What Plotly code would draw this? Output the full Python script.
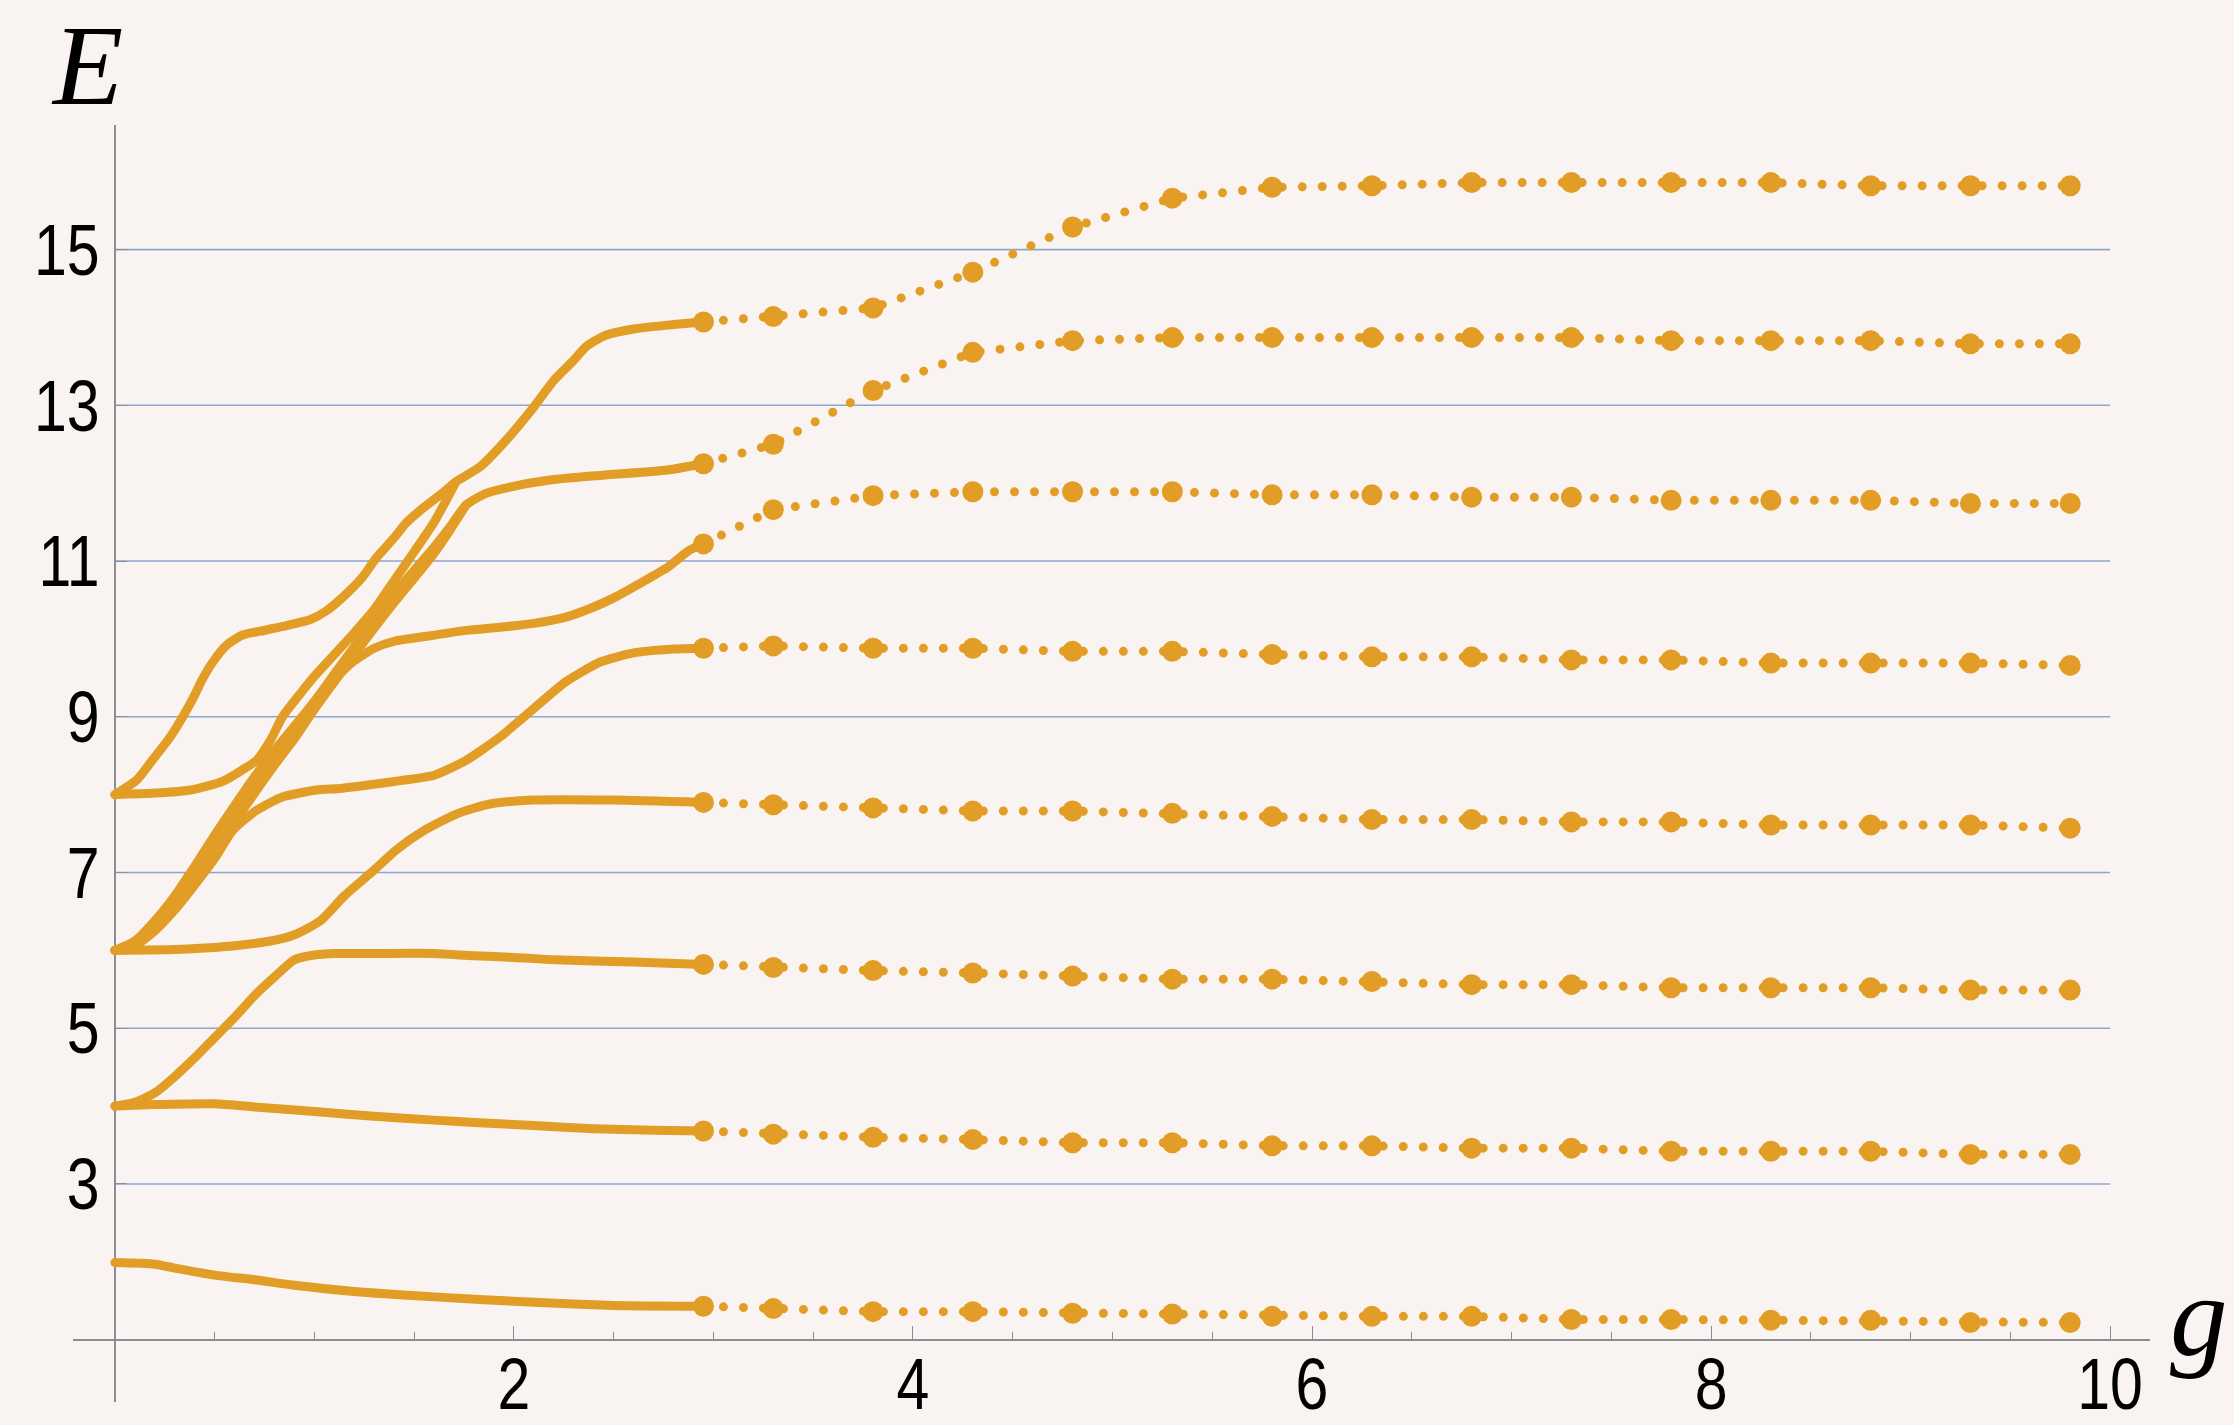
import plotly.graph_objects as go

# ---------------- data ----------------
# Solid branches (dense numerical solution), g from 0 up to the switch point
g_s1 = [0, 0.2, 0.3, 0.5, 0.7, 0.9, 1.2, 1.6, 2.1, 2.5, 2.95]
E_s1 = [1.99, 1.97, 1.92, 1.83, 1.77, 1.70, 1.62, 1.55, 1.48, 1.44, 1.43]

g_s2 = [0, 0.2, 0.5, 0.7, 1.0, 1.3, 1.6, 1.8, 2.1, 2.4, 2.7, 2.95]
E_s2 = [4.0, 4.02, 4.03, 3.99, 3.93, 3.87, 3.82, 3.79, 3.75, 3.71, 3.69, 3.68]

g_s3 = [0, 0.1, 0.2, 0.3, 0.4, 0.5, 0.6, 0.7, 0.8, 0.9, 1.0, 1.1, 1.3, 1.6, 1.8, 2.0, 2.2, 2.6, 2.95]
E_s3 = [4.0, 4.05, 4.17, 4.38, 4.62, 4.88, 5.14, 5.42, 5.66, 5.88, 5.94, 5.96, 5.96, 5.96, 5.93, 5.91, 5.88, 5.85, 5.82]

g_s4 = [0, 0.3, 0.45, 0.6, 0.8, 0.9, 1.03, 1.15, 1.29, 1.41, 1.55, 1.72, 1.88, 2.1, 2.5, 2.95]
E_s4 = [6.0, 6.01, 6.03, 6.06, 6.13, 6.2, 6.38, 6.70, 7.01, 7.29, 7.54, 7.76, 7.88, 7.93, 7.93, 7.90]

g_s5 = [0, 0.1, 0.2, 0.3, 0.4, 0.5, 0.59, 0.71, 0.84, 1.01, 1.13, 1.26, 1.43, 1.60, 1.76, 1.93, 2.06, 2.26, 2.43, 2.6, 2.8, 2.95]
E_s5 = [6.0, 6.06, 6.25, 6.52, 6.84, 7.18, 7.54, 7.80, 7.97, 8.06, 8.08, 8.12, 8.18, 8.25, 8.44, 8.74, 9.02, 9.45, 9.70, 9.82, 9.87, 9.88]

g_s6 = [0, 0.1, 0.2, 0.3, 0.4, 0.5, 0.6, 0.7, 0.8, 0.9, 1.0, 1.1, 1.2, 1.3, 1.4, 1.58, 1.76, 1.93, 2.10, 2.26, 2.40, 2.51, 2.63, 2.77, 2.88, 2.95]
E_s6 = [6.0, 6.08, 6.28, 6.56, 6.9, 7.27, 7.65, 8.02, 8.38, 8.72, 9.1, 9.48, 9.72, 9.88, 9.97, 10.04, 10.11, 10.15, 10.20, 10.28, 10.41, 10.54, 10.71, 10.92, 11.14, 11.22]

g_s7 = [0, 0.1, 0.2, 0.3, 0.4, 0.5, 0.6, 0.7, 0.8, 0.9, 1.0, 1.1, 1.2, 1.3, 1.4, 1.5, 1.6, 1.68, 1.76, 1.86, 1.98, 2.18, 2.43, 2.77, 2.95]
E_s7 = [6.0, 6.12, 6.38, 6.7, 7.08, 7.48, 7.86, 8.23, 8.57, 8.88, 9.2, 9.55, 9.9, 10.25, 10.58, 10.88, 11.18, 11.44, 11.72, 11.87, 11.95, 12.04, 12.10, 12.17, 12.25]

g_s8 = [0, 0.1, 0.2, 0.3, 0.4, 0.5, 0.6, 0.7, 0.8, 0.9, 1.0, 1.1, 1.2, 1.3, 1.4, 1.5, 1.6, 1.68, 1.76]
E_s8 = [6.0, 6.1, 6.33, 6.63, 6.98, 7.36, 7.74, 8.1, 8.45, 8.78, 9.1, 9.45, 9.8, 10.14, 10.47, 10.78, 11.1, 11.4, 11.72]

g_s9 = [0, 0.11, 0.19, 0.28, 0.34, 0.39, 0.44, 0.49, 0.56, 0.64, 0.73, 0.84, 0.98, 1.06, 1.14, 1.24, 1.31, 1.40, 1.46, 1.53,
        1.65, 1.71, 1.83, 1.96, 2.10, 2.20, 2.30, 2.36, 2.46, 2.60, 2.77, 2.95]
E_s9 = [8.0, 8.19, 8.45, 8.75, 9.0, 9.23, 9.49, 9.70, 9.92, 10.05, 10.10, 10.16, 10.25, 10.36, 10.53, 10.79, 11.04, 11.30, 11.49, 11.65,
        11.89, 12.02, 12.21, 12.55, 12.98, 13.32, 13.58, 13.75, 13.90, 13.98, 14.03, 14.07]

g_s10 = [0, 0.2, 0.38, 0.54, 0.64, 0.71, 0.78, 0.84, 0.93, 1.0, 1.1, 1.2, 1.3, 1.4, 1.5, 1.6, 1.71]
E_s10 = [8.0, 8.02, 8.06, 8.17, 8.32, 8.44, 8.70, 9.0, 9.3, 9.52, 9.8, 10.08, 10.38, 10.75, 11.12, 11.5, 12.02]

# Dotted branches (sparse points), g from the switch point to 9.8
g_dot = [2.95, 3.3, 3.8, 4.3, 4.8, 5.3, 5.8, 6.3, 6.8, 7.3, 7.8, 8.3, 8.8, 9.3, 9.8]
E_d1 = [1.43, 1.40, 1.36, 1.36, 1.34, 1.33, 1.30, 1.30, 1.30, 1.26, 1.26, 1.25, 1.25, 1.22, 1.22]
E_d2 = [3.68, 3.64, 3.60, 3.57, 3.53, 3.53, 3.49, 3.49, 3.46, 3.46, 3.42, 3.42, 3.42, 3.38, 3.38]
E_d3 = [5.82, 5.78, 5.74, 5.71, 5.67, 5.63, 5.63, 5.60, 5.56, 5.56, 5.52, 5.52, 5.52, 5.49, 5.49]
E_d4 = [7.90, 7.87, 7.83, 7.79, 7.79, 7.76, 7.72, 7.68, 7.68, 7.65, 7.65, 7.61, 7.61, 7.61, 7.57]
E_d5 = [9.88, 9.91, 9.88, 9.88, 9.84, 9.84, 9.80, 9.77, 9.77, 9.73, 9.73, 9.69, 9.69, 9.69, 9.66]
E_d6 = [11.22, 11.66, 11.84, 11.89, 11.89, 11.89, 11.85, 11.85, 11.82, 11.82, 11.78, 11.78, 11.78, 11.74, 11.74]
E_d7 = [12.25, 12.50, 13.19, 13.68, 13.83, 13.87, 13.87, 13.87, 13.87, 13.87, 13.83, 13.83, 13.83, 13.79, 13.79]
E_d8 = [14.07, 14.14, 14.25, 14.71, 15.29, 15.66, 15.80, 15.82, 15.86, 15.86, 15.86, 15.86, 15.82, 15.82, 15.82]

y_ticks = [3, 5, 7, 9, 11, 13, 15]
x_ticks = [2, 4, 6, 8, 10]
x_label = "g"
y_label = "E"

# ---------------- style ----------------
ORANGE = "#E19D25"
BG = "#F9F4F1"
GRID = "#8EA5CC"
AXIS = "#8C8C94"
TICK_FONT = "Liberation Sans Narrow, Arial Narrow, Liberation Sans, Arial, sans-serif"
LABEL_FONT = "Liberation Serif, Times New Roman, serif"

X_RANGE = [-0.21, 10.2]
Y_RANGE = [0.2, 16.6]

solid = [(g_s1, E_s1), (g_s2, E_s2), (g_s3, E_s3), (g_s4, E_s4), (g_s5, E_s5),
         (g_s6, E_s6), (g_s7, E_s7), (g_s8, E_s8), (g_s9, E_s9), (g_s10, E_s10)]
dotted = [E_d1, E_d2, E_d3, E_d4, E_d5, E_d6, E_d7, E_d8]

fig = go.Figure()

for gx, ey in solid:
    fig.add_trace(go.Scatter(
        x=gx, y=ey, mode="lines",
        line=dict(color=ORANGE, width=9, shape="spline", smoothing=0.6),
        hoverinfo="skip", showlegend=False, cliponaxis=False))

for ey in dotted:
    fig.add_trace(go.Scatter(
        x=g_dot, y=ey, mode="lines+markers",
        line=dict(color=ORANGE, width=9, dash="0px,20px"),
        marker=dict(color=ORANGE, size=21),
        hoverinfo="skip", showlegend=False, cliponaxis=False))

# horizontal grid lines spanning the g range
for yv in y_ticks:
    fig.add_shape(type="line", xref="x", yref="y", x0=0, x1=10, y0=yv, y1=yv,
                  line=dict(color=GRID, width=1.6), layer="below")

W, H = 2234, 1425
ML, MR, MT, MB = 73, 84, 125, 23
plot_w = W - ML - MR
plot_h = H - MT - MB
# axis crossing point (g = 0, E = 1) in paper fractions
x_cross = (0 - X_RANGE[0]) / (X_RANGE[1] - X_RANGE[0])
y_cross = (1 - Y_RANGE[0]) / (Y_RANGE[1] - Y_RANGE[0])

fig.update_layout(
    width=W, height=H,
    margin=dict(l=ML, r=MR, t=MT, b=MB, pad=0, autoexpand=False),
    paper_bgcolor=BG, plot_bgcolor=BG,
    xaxis=dict(range=X_RANGE, anchor="free", position=y_cross, automargin=False,
               showline=True, linecolor=AXIS, linewidth=1.6,
               ticks="inside", tickmode="array", tickvals=x_ticks,
               ticklen=13, tickwidth=1.3, tickcolor=AXIS, ticklabelstandoff=-18,
               minor=dict(tickmode="linear", tick0=0, dtick=0.5, ticks="inside",
                          ticklen=7, tickwidth=1.1, tickcolor=AXIS, showgrid=False),
               tickfont=dict(family=TICK_FONT, size=72, color="black"),
               showgrid=False, zeroline=False, layer="below traces"),
    yaxis=dict(range=Y_RANGE, anchor="free", position=x_cross, automargin=False,
               showline=True, linecolor=AXIS, linewidth=1.6,
               ticks="inside", tickmode="array", tickvals=y_ticks,
               ticklen=11, tickwidth=1.3, tickcolor=AXIS,
               tickfont=dict(family=TICK_FONT, size=72, color="black"),
               showgrid=False, zeroline=False, layer="below traces"),
    annotations=[
        dict(text=f"<i>{y_label}</i>", xref="paper", yref="paper",
             x=(86.5 - ML) / plot_w, y=(H - MB - 65) / plot_h,
             xanchor="center", yanchor="middle", showarrow=False,
             font=dict(family=LABEL_FONT, size=115, color="black")),
        dict(text=f"<i>{x_label}</i>", xref="paper", yref="paper",
             x=(2199 - ML) / plot_w, y=(H - MB - 1316) / plot_h,
             xanchor="center", yanchor="middle", showarrow=False,
             font=dict(family=LABEL_FONT, size=115, color="black")),
    ],
)

# round dot caps for the dotted branches, and narrow tick numerals
post = """
var s = document.createElement('style');
s.textContent = '.js-line{stroke-linecap:round !important;stroke-linejoin:round !important;}';
document.head.appendChild(s);
function narrowTicks(){
  document.querySelectorAll('.xtick text, .ytick text').forEach(function(t){
    if (t.getAttribute('data-narrow')) return;
    var b = t.getBBox();
    var isY = t.parentNode.classList.contains('ytick');
    var cx = isY ? (b.x + b.width) : (b.x + b.width / 2);
    var tr = t.getAttribute('transform') || '';
    t.setAttribute('transform', tr + ' translate(' + cx + ',0) scale(0.82,1) translate(' + (-cx) + ',0)');
    t.setAttribute('data-narrow', '1');
  });
}
narrowTicks();
setTimeout(narrowTicks, 50);
"""
fig.write_html("out.html", post_script=post)
